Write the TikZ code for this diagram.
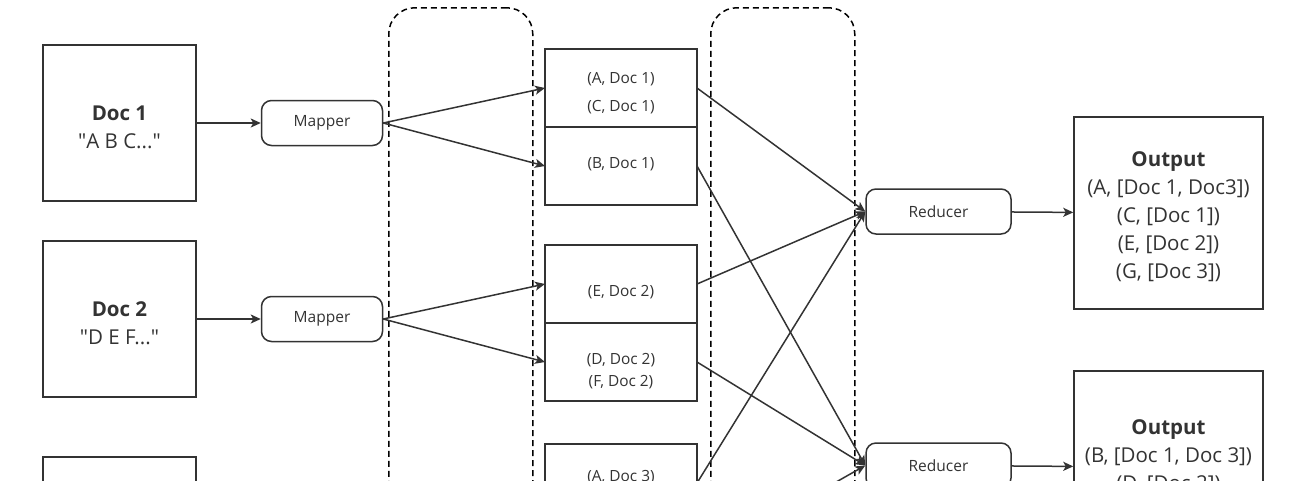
\documentclass[tikz,border=0pt]{standalone}
\usepackage{fontspec}
\setmainfont{Open Sans}
\usepackage{tikz}
\usetikzlibrary{arrows.meta, positioning}
\definecolor{darkgraphite}{HTML}{333333}
\tikzstyle{docbox}=[rectangle, minimum width=153pt, minimum height=156pt, draw=darkgraphite, line width=1.5pt]
\tikzstyle{outbox}=[docbox, minimum width=189pt, minimum height=192pt]
\tikzstyle{bigtext}=[align=center, text=darkgraphite, font=\fontsize{20.5}{28}\selectfont]
\tikzstyle{worker}=[rectangle, rounded corners=10pt, minimum width=121pt, minimum height=45pt, text centered, draw=darkgraphite, line width=1.5pt, text=darkgraphite, font=\fontsize{15.5}{18}\selectfont]
\tikzstyle{pairbox}=[rectangle, minimum width=152pt, minimum height=78pt, outer sep=0pt, draw=darkgraphite, line width=1.5pt]
\tikzstyle{pairtext}=[align=center, text=darkgraphite, font=\fontsize{15.4}{28}\selectfont]
\tikzstyle{phase}=[rectangle, rounded corners=26pt, minimum width=144pt, minimum height=620pt, anchor=north west, draw=black, line width=1.5pt, dash pattern=on 6pt off 4pt]
\tikzstyle{arrow}=[line width=1.5pt, draw=darkgraphite, -{Stealth[length=10pt, width=9pt, inset=2.5pt]}]
\newcommand{\dq}{\textquotedbl}

\begin{document}
\begin{tikzpicture}[x=1pt, y=-1pt]
		\useasboundingbox (0,0) rectangle (1306,480);
		\clip (0,0) rectangle (1306,480);
		
		% shuffle phases
		\node(ph1)[phase] at (388,7){};
		\node(ph2)[phase] at (710,7){};
		
		
		\node(doc1)[docbox] at (119.5,123){};
		\node(doc1-txt)[bigtext] at (119.5,127){\textbf{Doc 1}\\\dq A B C...\dq};
		\node(doc2)[docbox] at (119.5,319){};
		\node(doc2-txt)[bigtext] at (119.5,323){\textbf{Doc 2}\\\dq D E F...\dq};
		\node(doc3)[docbox] at (119.5,535){};
		
		
		\node(map1)[worker, right=64pt of doc1]{Mapper};
		\node(map2)[worker, right=64pt of doc2]{Mapper};
		
		
		\node(p1-a)[pairbox] at (621,88){};
		\node(p1-b)[pairbox, below=0pt of p1-a]{};
		\node(p1-a-txt)[pairtext] at (621,93){(A, Doc 1)\\(C, Doc 1)};
		\node(p1-b-txt)[pairtext] at (621,164){(B, Doc 1)};
		
		\node(p2-a)[pairbox] at (621,284){};
		\node(p2-b)[pairbox, below=0pt of p2-a]{};
		\node(p2-a-txt)[pairtext] at (621,292){(E, Doc 2)};
		\node(p2-b-txt)[pairtext, font=\fontsize{15.4}{22}\selectfont] at (621,371){(D, Doc 2)\\(F, Doc 2)};
		
		\node(p3-a)[pairbox] at (621,483){};
		\node(p3-b)[pairbox, below=0pt of p3-a]{};
		\node(p3-a-txt)[pairtext] at (621,477){(A, Doc 3)};
		
		
		\node(red1)[worker, minimum width=145pt] at (938.5,211.5){Reducer};
		\node(red2)[worker, minimum width=145pt] at (938.5,465.5){Reducer};
		
		
		\node(out1)[outbox] at (1168.5,213){};
		\node(out1-txt)[bigtext] at (1168.5,216.5){\textbf{Output}\\(A, [Doc 1, Doc3])\\(C, [Doc 1])\\(E, [Doc 2])\\(G, [Doc 3])};
		\node(out2)[outbox] at (1168.5,467){};
		\node(out2-txt)[bigtext] at (1168.5,456.5){\textbf{Output}\\(B, [Doc 1, Doc 3])\\(D, [Doc 2])};
		
		
		\draw[arrow](doc1)--(map1);
		\draw[arrow](doc2)--(map2);
		\draw[arrow](map1.east)--(p1-a.west);
		\draw[arrow](map1.east)--(p1-b.west);
		\draw[arrow](map2.east)--(p2-a.west);
		\draw[arrow](map2.east)--(p2-b.west);
		\draw[arrow](p1-a.east)--(red1.west);
		\draw[arrow](p2-a.east)--(red1.west);
		\draw[arrow](p3-a.east)--(red1.west);
		\draw[arrow](p1-b.east)--(red2.west);
		\draw[arrow](p2-b.east)--(red2.west);
		\draw[arrow](p3-b.east)--(red2.west);
		\draw[arrow](red1)--(out1);
		\draw[arrow](red2)--(out2);
		
	\end{tikzpicture}
\end{document}
